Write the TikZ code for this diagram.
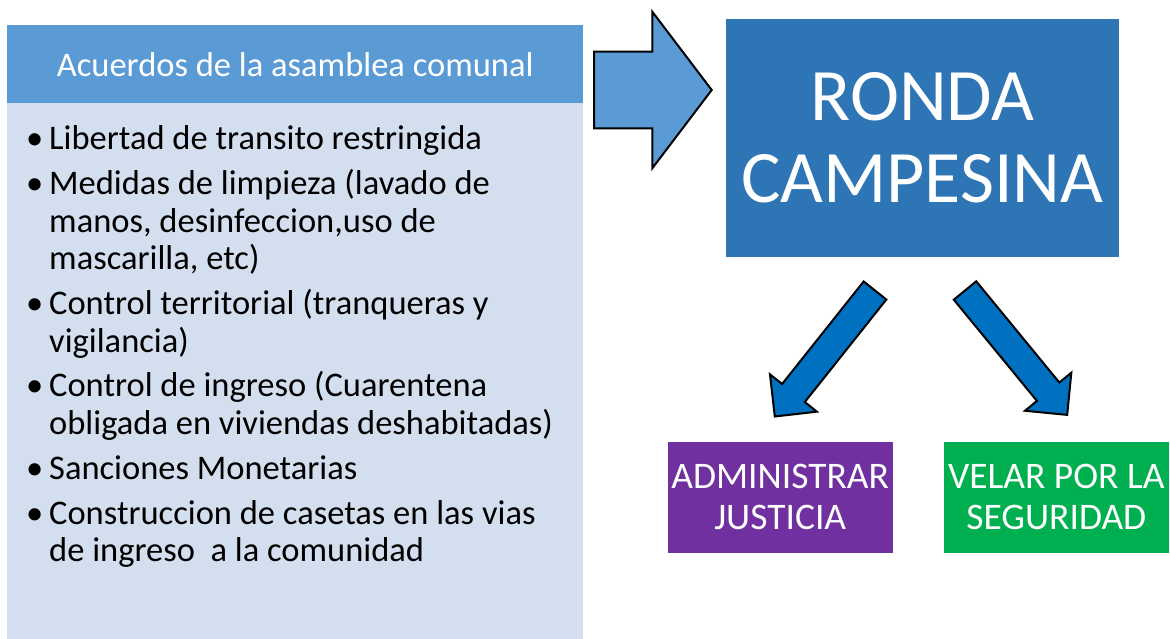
\documentclass[tikz,border=0pt]{standalone}
\usepackage{fontspec}
\setmainfont{Carlito}
\usetikzlibrary{positioning}
\definecolor{cabecera}{HTML}{5B9BD5}
\definecolor{fondo}{HTML}{D3DFEE}
\definecolor{ronda}{HTML}{2E75B6}
\definecolor{flecha}{HTML}{0070C0}
\definecolor{morado}{HTML}{7030A0}
\definecolor{verde}{HTML}{00B050}

\begin{document}
\begin{tikzpicture}[x=1pt, y=-1pt, caja/.style={rectangle, inner sep=0pt, text=white, align=center}, lista/.style={anchor=base west, inner sep=0pt, font=\fontsize{34.5}{37.5}\selectfont}, bloque/.style={draw=black, line width=2pt, line join=miter}]
  \useasboundingbox (0,0) rectangle (1170,639);
  \node [caja, fill=fondo, anchor=north west, minimum width=576pt, minimum height=536pt] (panel) at (7,103) {};
  \node [caja, fill=cabecera, anchor=north west, minimum width=576pt, minimum height=78pt, font=\fontsize{34.5}{37.5}\selectfont] (acuerdos) at (7,25) {Acuerdos de la asamblea comunal};

  \node [lista] (libertad) at (26,149.3) {\begin{tabular}[t]{@{}l@{}l@{}}\makebox[23pt][l]{•}&Libertad de transito restringida\end{tabular}};
  \node [lista] (limpieza) at (26,194.8) {\begin{tabular}[t]{@{}l@{}l@{}}\makebox[23pt][l]{•}&Medidas de limpieza (lavado de\\&manos, desinfeccion,uso de\\&mascarilla, etc)\end{tabular}};
  \node [lista] (control) at (26,314.5) {\begin{tabular}[t]{@{}l@{}l@{}}\makebox[23pt][l]{•}&Control territorial (tranqueras y\\&vigilancia)\end{tabular}};
  \node [lista] (ingreso) at (26,396.8) {\begin{tabular}[t]{@{}l@{}l@{}}\makebox[23pt][l]{•}&Control de ingreso (Cuarentena\\&obligada en viviendas deshabitadas)\end{tabular}};
  \node [lista] (sanciones) at (26,479) {\begin{tabular}[t]{@{}l@{}l@{}}\makebox[23pt][l]{•}&Sanciones Monetarias\end{tabular}};
  \node [lista] (casetas) at (26,524) {\begin{tabular}[t]{@{}l@{}l@{}}\makebox[23pt][l]{•}&Construccion de casetas en las vias\\&de ingreso~ a la comunidad\end{tabular}};

  \node [caja, fill=ronda, minimum width=393pt, minimum height=237.5pt, font=\fontsize{74}{82}\selectfont] (ronda) at (922.3,138) {RONDA\\CAMPESINA};
  \node [caja, fill=morado, minimum width=225pt, minimum height=111pt, font=\fontsize{37.5}{40.6}\selectfont] (justicia) at (780.2,497.2) {ADMINISTRAR\\JUSTICIA};
  \node [caja, fill=verde, minimum width=225pt, minimum height=111pt, font=\fontsize{37.5}{40.6}\selectfont] (seguridad) at (1056.3,497.2) {VELAR POR LA\\SEGURIDAD};

  % flechas de bloque
  \draw [bloque, fill=cabecera] (594,51.7) -- (652.3,51.7) -- (652.3,11.7) -- (711.7,90) -- (652.3,168.3) -- (652.3,128.3) -- (594,128.3) -- cycle;
  \begin{scope}[shift={(875,290.5)}, rotate=231.5]
    \draw [bloque, fill=flecha] (0,-14.5) -- (131,-14.5) -- (131,-30) -- (161,0) -- (131,30) -- (131,14.5) -- (0,14.5) -- cycle;
  \end{scope}
  \begin{scope}[shift={(965,290.5)}, rotate=-50.6]
    \draw [bloque, fill=flecha] (0,-14.5) -- (131,-14.5) -- (131,-30) -- (161,0) -- (131,30) -- (131,14.5) -- (0,14.5) -- cycle;
  \end{scope}
\end{tikzpicture}
\end{document}
